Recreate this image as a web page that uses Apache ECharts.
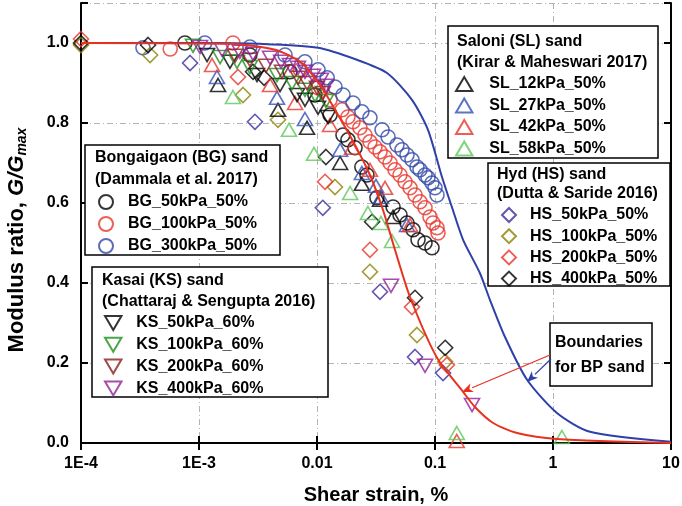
<!DOCTYPE html>
<html><head><meta charset="utf-8">
<script src="https://cdn.jsdelivr.net/npm/echarts@6/dist/echarts.min.js"></script>
<style>html,body{margin:0;padding:0;background:#fff}#c{width:682px;height:506px}</style>
</head><body><div id="c"></div>
<script>
// ---- data (shear strain %, G/Gmax) ----
const bg50 = [[7.6e-4,1.0],[2.7e-3,0.97],[5.9e-3,0.928],[9.6e-3,0.87],[0.0129,0.82],[0.0166,0.77],[0.0183,0.758],[0.021,0.738],[0.024,0.69],[0.0265,0.67],[0.0322,0.613],[0.0441,0.59],[0.0505,0.57],[0.0579,0.55],[0.0652,0.533],[0.0718,0.508],[0.0823,0.5],[0.0943,0.488]];
const bg100 = [[5.7e-4,0.985],[1.94e-3,1.0],[7.2e-3,0.933],[0.0102,0.888],[0.0129,0.858],[0.0163,0.833],[0.0183,0.815],[0.0202,0.803],[0.0231,0.788],[0.0255,0.77],[0.0281,0.753],[0.031,0.74],[0.0342,0.728],[0.0377,0.715],[0.0416,0.7],[0.0458,0.683],[0.0505,0.67],[0.0557,0.653],[0.0614,0.638],[0.0677,0.62],[0.0746,0.603],[0.0823,0.588],[0.0907,0.565],[0.0962,0.55],[0.104,0.538],[0.106,0.525]];
const bg300 = [[3.35e-4,0.988],[1.12e-3,1.0],[2.7e-3,0.99],[5.36e-3,0.97],[7.9e-3,0.953],[0.0102,0.933],[0.0122,0.913],[0.0142,0.89],[0.0166,0.87],[0.0202,0.85],[0.024,0.828],[0.0281,0.813],[0.0356,0.783],[0.04,0.765],[0.0476,0.745],[0.0525,0.733],[0.0579,0.72],[0.0638,0.708],[0.0703,0.69],[0.0746,0.683],[0.0823,0.67],[0.0872,0.663],[0.0943,0.65],[0.1,0.638],[0.104,0.62]];
const sl12 = [[1.45e-3,0.895],[4.67e-3,0.833],[8.23e-3,0.788],[0.0157,0.7],[0.024,0.648],[0.0342,0.608],[0.0441,0.565]];
const sl27 = [[1.42e-3,0.915],[4.58e-3,0.863],[7.91e-3,0.81],[0.0157,0.733],[0.024,0.675],[0.0316,0.643],[0.0348,0.615],[0.0579,0.545]];
const sl42 = [[1.29e-3,0.945],[4.0e-3,0.895],[6.52e-3,0.85],[0.0129,0.795],[0.0198,0.738],[0.0281,0.683],[0.0377,0.638],[0.0614,0.545],[0.153,0.005]];
const sl58 = [[1.94e-3,0.865],[5.79e-3,0.783],[9.43e-3,0.723],[0.0191,0.625],[0.027,0.575],[0.0348,0.55],[0.0432,0.505],[0.153,0.025],[1.19,0.015]];
const ks50 = [[1.17e-3,0.97],[1.83e-3,0.953],[3.1e-3,0.92],[4.86e-3,0.895],[6.77e-3,0.87],[7.91e-3,0.858],[0.0102,0.838],[0.0124,0.815]];
const ks100 = [[8.9e-4,0.993],[1.51e-3,0.965],[2.1e-3,0.953],[2.7e-3,0.94],[4.58e-3,0.92],[6.14e-3,0.9],[7.91e-3,0.883],[9.62e-3,0.87],[0.0119,0.855]];
const ks200 = [[2.02e-3,0.968],[2.7e-3,0.958],[3.7e-3,0.943],[5.05e-3,0.928],[6.9e-3,0.913],[8.23e-3,0.9],[0.01,0.888],[0.0112,0.875]];
const ks400 = [[1.02e-3,0.99],[1.57e-3,0.983],[2.22e-3,0.978],[2.87e-3,0.973],[4.0e-3,0.963],[4.96e-3,0.953],[5.9e-3,0.945],[6.9e-3,0.938],[7.91e-3,0.928],[9.25e-3,0.918],[0.0108,0.908],[0.0119,0.893],[0.0424,0.393],[0.0823,0.193],[0.206,0.095]];
const hs50 = [[8.4e-4,0.95],[2.98e-3,0.803],[0.0112,0.588],[0.0342,0.378],[0.0677,0.215],[0.117,0.175]];
const hs100 = [[1e-4,0.995],[3.85e-4,0.97],[2.36e-3,0.87],[4.67e-3,0.808],[0.0142,0.64],[0.0281,0.428],[0.0703,0.27],[0.122,0.203]];
const hs200 = [[1e-4,1.01],[2.14e-3,0.915],[0.0117,0.653],[0.0281,0.483],[0.0638,0.34],[0.126,0.195]];
const hs400 = [[1e-4,1.0],[3.7e-4,0.995],[2.87e-3,0.928],[3.56e-3,0.913],[0.0119,0.715],[0.0293,0.553],[0.0677,0.363],[0.122,0.238]];
const upperBound = [[1e-4,1.0],[1e-3,1.0],[3.29e-3,0.998],[0.0102,0.988],[0.0218,0.958],[0.0392,0.925],[0.0638,0.858],[0.0872,0.783],[0.1146,0.665],[0.139,0.59],[0.173,0.508],[0.24,0.425],[0.292,0.358],[0.392,0.265],[0.603,0.158],[1.08,0.075],[2.06,0.028],[10,0.003]];
const lowerBound = [[1e-4,1.0],[1.83e-3,0.998],[4.41e-3,0.983],[7.18e-3,0.953],[0.0106,0.895],[0.0151,0.82],[0.021,0.745],[0.0281,0.67],[0.0362,0.583],[0.0458,0.483],[0.0614,0.365],[0.104,0.213],[0.173,0.128],[0.218,0.09],[0.311,0.05],[0.496,0.025],[1.08,0.01],[10,0.0]];
const yTicks = [0, 0.2, 0.4, 0.6, 0.8, 1.0];

const FONT = '"Liberation Sans", Arial, sans-serif';
const DOWN = 'path://M0,0L20,0L10,17Z';
const UP = 'path://M10,0L20,17L0,17Z';
const DIAM = 'path://M10,0L20,10L10,20L0,10Z';

function sc(name, data, symbol, color, size) {
  return { type: 'scatter', name, data, symbol, symbolSize: size, z: 2,
    itemStyle: { color: 'rgba(255,255,255,0)', borderColor: color, borderWidth: 1.6 },
    emphasis: { disabled: true } };
}
const C = 14, T = [15, 13], D = 15;
const series = [
  sc('BG_50kPa_50%', bg50, 'circle', '#000000', C),
  sc('BG_100kPa_50%', bg100, 'circle', '#e8352b', C),
  sc('BG_300kPa_50%', bg300, 'circle', '#3248a8', C),
  sc('HS_50kPa_50%', hs50, DIAM, '#3d2c9c', D),
  sc('HS_100kPa_50%', hs100, DIAM, '#8c8200', D),
  sc('HS_200kPa_50%', hs200, DIAM, '#e8352b', D),
  sc('HS_400kPa_50%', hs400, DIAM, '#000000', D),
  sc('SL_12kPa_50%', sl12, UP, '#000000', T),
  sc('SL_27kPa_50%', sl27, UP, '#3550b5', T),
  sc('SL_42kPa_50%', sl42, UP, '#e8352b', T),
  sc('SL_58kPa_50%', sl58, UP, '#5cc85a', T),
  sc('KS_50kPa_60%', ks50, DOWN, '#000000', T),
  sc('KS_100kPa_60%', ks100, DOWN, '#1b8f1b', T),
  sc('KS_200kPa_60%', ks200, DOWN, '#8b1c1c', T),
  sc('KS_400kPa_60%', ks400, DOWN, '#8e1f97', T),
  { type: 'line', name: 'upper', data: upperBound, symbol: 'none', smooth: 0.25, z: 4,
    lineStyle: { color: '#2f40a8', width: 2 }, emphasis: { disabled: true } },
  { type: 'line', name: 'lower', data: lowerBound, symbol: 'none', smooth: 0.25, z: 4,
    lineStyle: { color: '#e8321f', width: 2 }, emphasis: { disabled: true } }
];

function leg(names, left, top, w, gap) {
  return { data: names, orient: 'vertical', left, top, itemWidth: w, itemHeight: 14,
    itemGap: gap, padding: 0, selectedMode: false, z: 60,
    textStyle: { fontFamily: FONT, fontWeight: 'bold', fontSize: 16, color: '#000' } };
}

function xfmt(v) {
  const e = Math.round(Math.log10(v));
  if (e <= -3) return '1E' + e;
  if (e < 0) return Math.pow(10, e).toFixed(-e);
  return String(Math.round(Math.pow(10, e)));
}
function yfmt(v) {
  const hit = yTicks.find(t => Math.abs(t - v) < 1e-6);
  return hit === undefined ? '' : hit.toFixed(1);
}

function box(x, y, w, h) {
  return { type: 'rect', shape: { x, y, width: w, height: h }, z: 50,
    style: { fill: '#fff', stroke: '#000', lineWidth: 1.5 } };
}
function txt(s, x, y) {
  return { type: 'text', x, y, z: 55,
    style: { text: s, fill: '#000', font: 'bold 16px ' + FONT, textVerticalAlign: 'middle', textAlign: 'left' } };
}
function arrow(x1, y1, x2, y2, color) {
  const a = Math.atan2(y2 - y1, x2 - x1), L = 11, W = 4.5;
  const bx = x2 - L * Math.cos(a), by = y2 - L * Math.sin(a);
  const px = -Math.sin(a) * W, py = Math.cos(a) * W;
  return [
    { type: 'line', z: 55, shape: { x1, y1, x2: bx, y2: by }, style: { stroke: color, lineWidth: 1.3 } },
    { type: 'polygon', z: 55, shape: { points: [[x2, y2], [bx + px, by + py], [bx + 3 * Math.cos(a), by + 3 * Math.sin(a)], [bx - px, by - py]] }, style: { fill: color } }
  ];
}

const axisCommon = { axisLine: { lineStyle: { color: '#000', width: 2 } },
  axisTick: { inside: true, length: 7, lineStyle: { color: '#000', width: 2 } } };

const yName = { type: 'text', x: 17, y: 240, rotation: Math.PI / 2, z: 55,
  style: { text: '{a|Modulus ratio, }{i|G/G}{s|max}', textAlign: 'center', textVerticalAlign: 'middle',
    rich: {
      a: { fontFamily: FONT, fontWeight: 'bold', fontSize: 22, fill: '#000' },
      i: { fontFamily: FONT, fontWeight: 'bold', fontStyle: 'italic', fontSize: 22, fill: '#000' },
      s: { fontFamily: FONT, fontWeight: 'bold', fontStyle: 'italic', fontSize: 14, fill: '#000', verticalAlign: 'bottom', padding: [10, 0, 0, 0] } } } };

const option = {
  animation: false,
  backgroundColor: '#fff',
  grid: { left: 81, right: 11, top: 3, bottom: 63, containLabel: false, outerBoundsMode: 'none' },
  xAxis: [
    Object.assign({ type: 'log', logBase: 10, min: 1e-4, max: 10, position: 'bottom',
      axisLabel: { formatter: xfmt, fontFamily: FONT, fontWeight: 'bold', fontSize: 16, color: '#000', margin: 13 },
      splitLine: { show: true, lineStyle: { color: '#b5b5b5', width: 1, type: [6, 3, 1, 3] } },
      name: 'Shear strain, %', nameLocation: 'middle', nameGap: 42,
      nameTextStyle: { fontFamily: FONT, fontWeight: 'bold', fontSize: 20, color: '#000' } }, axisCommon),
    Object.assign({ type: 'log', logBase: 10, min: 1e-4, max: 10, position: 'top',
      axisLabel: { show: false }, splitLine: { show: false } }, axisCommon)
  ],
  yAxis: [
    Object.assign({ type: 'value', min: 0, max: 1.1, interval: 0.2, position: 'left',
      axisLabel: { formatter: yfmt, fontFamily: FONT, fontWeight: 'bold', fontSize: 16, color: '#000', margin: 12 },
      splitLine: { show: true, lineStyle: { color: '#b5b5b5', width: 1, type: [6, 3, 1, 3] } } }, axisCommon),
    Object.assign({ type: 'value', min: 0, max: 1.1, interval: 0.2, position: 'right',
      axisLabel: { show: false }, splitLine: { show: false } }, axisCommon)
  ],
  legend: [
    leg(['BG_50kPa_50%', 'BG_100kPa_50%', 'BG_300kPa_50%'], 98, 194, 34, 6),
    leg(['KS_50kPa_60%', 'KS_100kPa_60%', 'KS_200kPa_60%', 'KS_400kPa_60%'], 104, 315, 36, 5.8),
    leg(['SL_12kPa_50%', 'SL_27kPa_50%', 'SL_42kPa_50%', 'SL_58kPa_50%'], 455, 76, 40, 5.5),
    leg(['HS_50kPa_50%', 'HS_100kPa_50%', 'HS_200kPa_50%', 'HS_400kPa_50%'], 501, 207, 32, 5.2)
  ],
  graphic: [
    yName,
    box(85, 145, 195, 110), txt('Bongaigaon (BG) sand', 95, 158), txt('(Dammala et al. 2017)', 95, 180),
    box(92, 267, 236, 130), txt('Kasai (KS) sand', 102, 281), txt('(Chattaraj & Sengupta 2016)', 102, 302),
    box(448, 26, 210, 132), txt('Saloni (SL) sand', 457, 42), txt('(Kirar & Maheswari 2017)', 457, 63),
    box(488, 163, 182, 123), txt('Hyd (HS) sand', 497, 175), txt('(Dutta & Saride 2016)', 497, 194),
    box(550, 323, 102, 63), txt('Boundaries', 555, 343), txt('for BP sand', 555, 368)
  ].concat(arrow(550, 355, 462, 392, '#e8321f'), arrow(551, 359, 527, 382, '#2f40a8')),
  series
};
const chart = echarts.init(document.getElementById('c'), null, { renderer: 'canvas' });
chart.setOption(option);
</script></body></html>
